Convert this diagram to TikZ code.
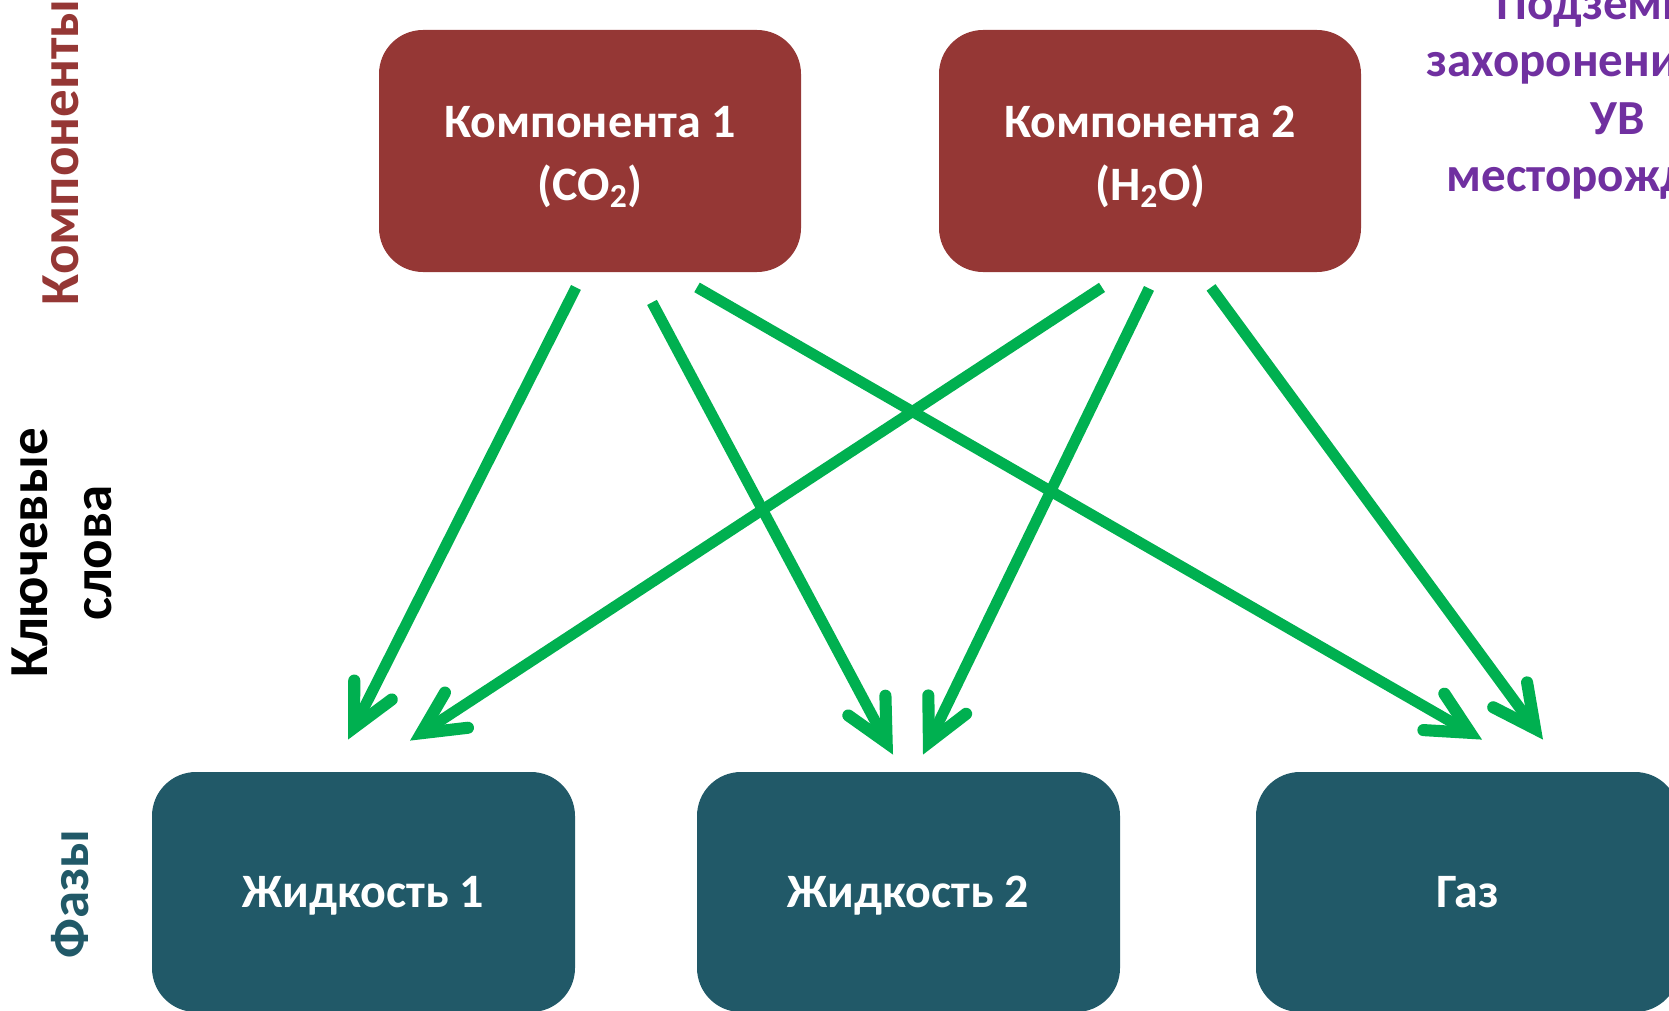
\documentclass[tikz,border=0pt]{standalone}
\usepackage{fontspec}
\setmainfont{Carlito}
\usetikzlibrary{arrows.meta}
\definecolor{boxred}{HTML}{953735}
\definecolor{boxteal}{HTML}{215968}
\definecolor{arrowgreen}{HTML}{00B050}
\definecolor{purp}{HTML}{7030A0}
\begin{document}
\begin{tikzpicture}[x=0.5pt,y=-0.5pt,
  compbox/.style={rectangle, rounded corners=22pt, fill=boxred,
    minimum width=211pt, minimum height=121pt, inner sep=0pt},
  comptext/.style={text=white, inner sep=0pt, anchor=base,
    font=\fontsize{24}{29}\selectfont\bfseries},
  phasebox/.style={rectangle, rounded corners=22pt, fill=boxteal, text=white,
    minimum width=211.5pt, minimum height=120pt, inner sep=0pt, align=center,
    text height=15pt, text depth=0pt,
    font=\fontsize{24}{29}\selectfont\bfseries},
  link/.style={draw=arrowgreen, line width=5.5pt,
    -{Straight Barb[length=21pt, width=21pt, line width=0pt 1.1, line cap=round, line join=miter]}},
  sidelabel/.style={rotate=90, inner sep=0pt, align=center,
    font=\fontsize{27.5}{32}\selectfont\bfseries},
  purptext/.style={text=purp, inner sep=0pt, anchor=base west,
    font=\fontsize{24.5}{29}\selectfont\bfseries}
]
\useasboundingbox (0,0) rectangle (1669,1011);
\clip (0,0) rectangle (1669,1011);

% side labels
\node[sidelabel, text=boxred, anchor=base] (lk) at (78,152) {Компоненты};
\node[sidelabel, text=black] (lw) at (62,553) {Ключевые\\слова};
\node[sidelabel, text=boxteal, anchor=base] (lf) at (88,894) {Фазы};

% purple text (clipped at the right edge, as in the reference)
\node[purptext] (t1) at (1496,20) {Подземное};
\node[purptext] (t2) at (1426,77) {захоронение};
\node[purptext] (t3) at (1590,134) {УВ};
\node[purptext] (t4) at (1446,191) {месторождения};

% components
\node[compbox] (c1) at (590,151) {};
\node[compbox] (c2) at (1150,151) {};
\node[comptext] (c1a) at (590,138) {Компонента 1};
\node[comptext] (c1b) at (590,200) {(CO\textsubscript{2})};
\node[comptext] (c2a) at (1150,138) {Компонента 2};
\node[comptext] (c2b) at (1150,200) {(H\textsubscript{2}O)};

% phases
\node[phasebox] (p1) at (363.5,892) {Жидкость 1};
\node[phasebox] (p2) at (908.5,892) {Жидкость 2};
\node[phasebox] (p3) at (1467.5,892) {Газ};

% arrow end points
\coordinate (a1s) at ([shift={(-14,15)}]c1.south);
\coordinate (a2s) at ([shift={(62,30)}]c1.south);
\coordinate (a3s) at ([shift={(107,15)}]c1.south);
\coordinate (a4s) at ([shift={(-48,15)}]c2.south);
\coordinate (a5s) at ([shift={(-1,16)}]c2.south);
\coordinate (a6s) at ([shift={(61,15)}]c2.south);
\coordinate (a1e) at ([shift={(-15.5,-32)}]p1.north);
\coordinate (a4e) at ([shift={(46.5,-31)}]p1.north);
\coordinate (a2e) at ([shift={(-15.5,-17)}]p2.north);
\coordinate (a5e) at ([shift={(14.5,-17)}]p2.north);
\coordinate (a3e) at ([shift={(14.5,-32)}]p3.north);
\coordinate (a6e) at ([shift={(75.5,-32)}]p3.north);

\draw[link] (a1s) -- (a1e);
\draw[link] (a2s) -- (a2e);
\draw[link] (a3s) -- (a3e);
\draw[link] (a4s) -- (a4e);
\draw[link] (a5s) -- (a5e);
\draw[link] (a6s) -- (a6e);
\end{tikzpicture}
\end{document}
